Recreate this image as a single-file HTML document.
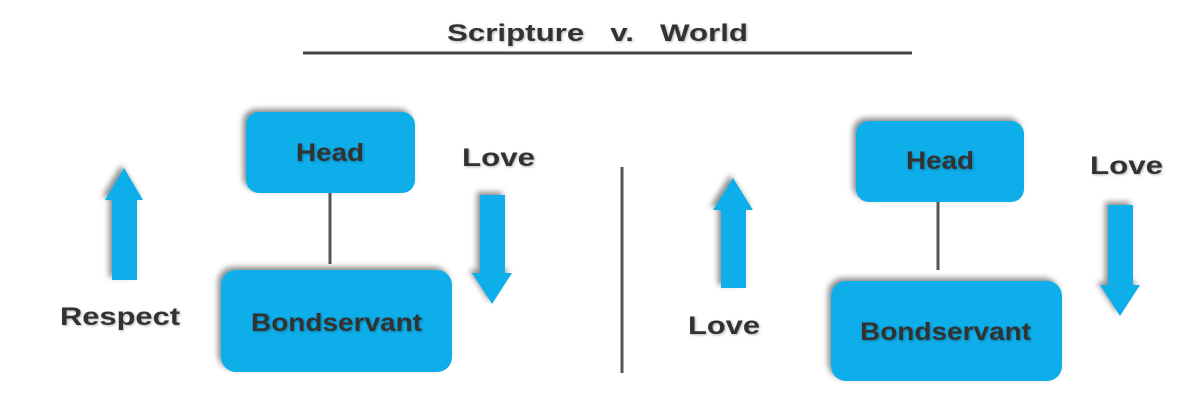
<!DOCTYPE html>
<html><head><meta charset="utf-8"><style>
html,body{margin:0;padding:0;background:#fff;width:1204px;height:400px;overflow:hidden}
text{font-family:"Liberation Sans",sans-serif;font-weight:bold;fill:#333}
</style></head><body>
<svg width="1204" height="400" viewBox="0 0 1204 400">
<defs>
<filter id="sh" x="-20%" y="-20%" width="140%" height="140%">
<feDropShadow dx="-3" dy="-3" stdDeviation="3" flood-color="#000" flood-opacity="0.45"/>
</filter>
<filter id="ts"><feDropShadow dx="1" dy="1" stdDeviation="1.2" flood-color="#000" flood-opacity="0.3"/></filter>
</defs>
<text x="447" y="41" font-size="24" textLength="301" lengthAdjust="spacingAndGlyphs" filter="url(#ts)">Scripture&#160;&#160;&#160;v.&#160;&#160;&#160;World</text>
<line x1="303" y1="53" x2="912" y2="53" stroke="#444" stroke-width="3"/>
<line x1="622" y1="167" x2="622" y2="373" stroke="#555" stroke-width="3"/>
<line x1="330" y1="193" x2="330" y2="264" stroke="#555" stroke-width="3"/>
<g fill="#0aaeea" filter="url(#sh)">
<rect x="246" y="112" width="169" height="81" rx="13"/>
<rect x="221" y="270" width="231" height="102" rx="15"/>
<polygon points="124,168 143,200 137,200 137,280 112,280 112,200 105,200"/>
<polygon points="480,195 505,195 505,273 512,273 492,304 472,273 480,273"/>
<rect x="856" y="121" width="168" height="81" rx="13"/>
<rect x="831" y="281" width="231" height="100" rx="15"/>
<polygon points="733,178 753,210 746,210 746,288 721,288 721,210 713,210"/>
<polygon points="1108,205 1133,205 1133,285 1140,285 1120,316 1100,285 1108,285"/>
</g>
<line x1="938" y1="202" x2="938" y2="270" stroke="#555" stroke-width="3"/>
<g font-size="25" filter="url(#ts)">
<text x="296" y="161" textLength="68" lengthAdjust="spacingAndGlyphs">Head</text>
<text x="251" y="331" textLength="171" lengthAdjust="spacingAndGlyphs">Bondservant</text>
<text x="462" y="166" textLength="73" lengthAdjust="spacingAndGlyphs">Love</text>
<text x="60" y="325" textLength="120" lengthAdjust="spacingAndGlyphs">Respect</text>
<text x="906" y="169" textLength="68" lengthAdjust="spacingAndGlyphs">Head</text>
<text x="860" y="340" textLength="171" lengthAdjust="spacingAndGlyphs">Bondservant</text>
<text x="1090" y="174" textLength="73" lengthAdjust="spacingAndGlyphs">Love</text>
<text x="688" y="334" textLength="72" lengthAdjust="spacingAndGlyphs">Love</text>
</g>
</svg>
</body></html>
